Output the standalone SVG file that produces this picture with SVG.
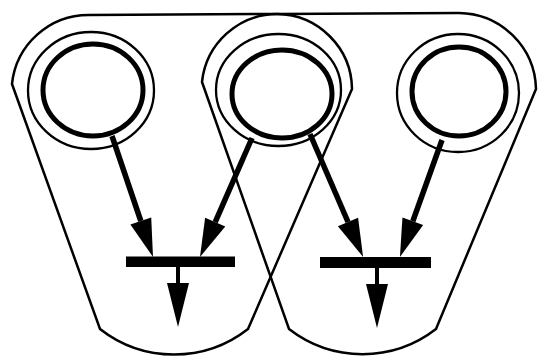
<svg xmlns="http://www.w3.org/2000/svg" width="538" height="356" viewBox="0 0 538 356">
<style>
.bucket{fill:none;stroke:#000;stroke-width:2.5;stroke-linejoin:miter}
.ring{fill:none;stroke:#000;stroke-width:2.3}
.core{fill:none;stroke:#000;stroke-width:5}
.arc{fill:none;stroke:#000;stroke-width:5.5}
.stem{fill:none;stroke:#000;stroke-width:4}
.bar{fill:#000}
</style>
<defs>
<marker id="ah" markerUnits="userSpaceOnUse" viewBox="0 -11 38 22" refX="0" refY="0" markerWidth="38" markerHeight="22" orient="auto" overflow="visible">
<path d="M0,-11 L38,0 L0,11 Z" fill="#000"/>
</marker>
<marker id="ahd" markerUnits="userSpaceOnUse" viewBox="0 -11 44 22" refX="0" refY="0" markerWidth="44" markerHeight="22" orient="auto" overflow="visible">
<path d="M0,-11 L44,0 L0,11 Z" fill="#000"/>
</marker>
</defs>
<rect width="538" height="356" fill="#fff"/>
<g id="bucket-left">
<path class="bucket" d="M89,15 L277,14 A76 76 0 0 1 352,89 L248,329 A120 120 0 0 1 100,329 L12,84 A77 77 0 0 1 89,15 Z"/>
</g>
<g id="bucket-right">
<path class="bucket" d="M277,14 L459,13 A78 78 0 0 1 536,89 L436,329 A120 120 0 0 1 289,329 L202,82 A76 76 0 0 1 277,14 Z"/>
</g>
<g id="place-left">
<ellipse class="ring" cx="91" cy="90.5" rx="63" ry="58.5"/>
<ellipse class="core" cx="93" cy="90" rx="50" ry="46"/>
</g>
<g id="place-middle">
<ellipse class="ring" cx="278.5" cy="90" rx="62.5" ry="56"/>
<ellipse class="core" cx="282" cy="94" rx="50" ry="44"/>
</g>
<g id="place-right">
<ellipse class="ring" cx="458" cy="93" rx="61" ry="59"/>
<ellipse class="core" cx="459" cy="91.5" rx="47" ry="44.5"/>
</g>
<g id="transition-left">
<rect class="bar" x="126" y="256.5" width="109" height="10.5"/>
</g>
<g id="transition-right">
<rect class="bar" x="320" y="257" width="111" height="11"/>
</g>
<g id="connectors">
<path class="arc" d="M112,136 L140.8,221" marker-end="url(#ah)"/>
<path class="arc" d="M252,138 L215.2,222.2" marker-end="url(#ah)"/>
<path class="arc" d="M310,134 L348,222" marker-end="url(#ah)"/>
<path class="arc" d="M442,140 L412.8,221.2" marker-end="url(#ah)"/>
<path class="stem" d="M178,266 L178,283" marker-end="url(#ahd)"/>
<path class="stem" d="M377,267 L377,284" marker-end="url(#ahd)"/>
</g>
</svg>
